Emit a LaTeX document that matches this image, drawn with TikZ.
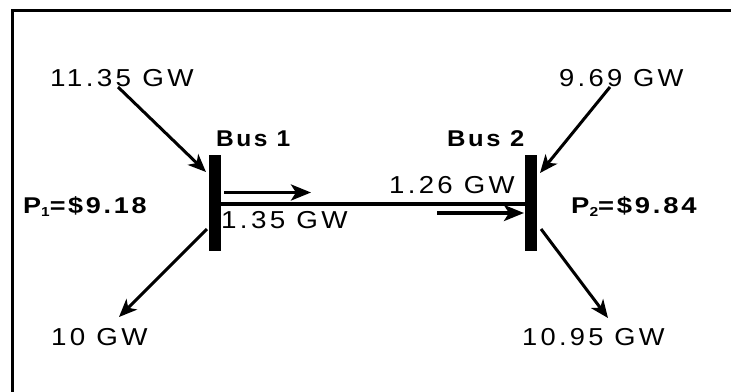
\documentclass[tikz,border=0pt]{standalone}
\usepackage{fontspec}
\usepackage{graphicx}
\setmainfont{Liberation Sans}
\newfontfamily\trackfont[LetterSpace=12]{Liberation Sans}
\newfontfamily\btrackfont[LetterSpace=10]{Liberation Sans}
\usetikzlibrary{arrows.meta}
\tikzset{
  lab/.style={inner sep=0pt, anchor=west, font=\fontsize{24.5}{24.5}\selectfont\trackfont, text height=17.5pt, text depth=0pt},
  blab/.style={inner sep=0pt, font=\fontsize{22.8}{22.8}\selectfont\btrackfont\bfseries, text height=16.3pt, text depth=0pt},
  busbar/.style={fill=black, draw=none},
  flow/.style={line width=3pt, -{Stealth[length=18pt, width=15pt, inset=5pt]}},
  hflow/.style={line width=3.5pt, -{Stealth[length=20pt, width=16pt, inset=5pt]}},
  frame/.style={line width=3.5pt},
  tline/.style={line width=4.5pt}
}
\newcommand{\wtext}[2]{\resizebox{#1pt}{\height}{#2}}
\newcommand{\subidx}[1]{\raisebox{-3pt}{\fontsize{13}{13}\selectfont #1}}
\begin{document}
\begin{tikzpicture}[x=1pt,y=-1pt]
\useasboundingbox (0,0) rectangle (731,391);
% frame
\draw[frame] (12.5,400) -- (12.5,10.5) -- (740,10.5);
% buses
\fill[busbar] (209,155) rectangle (221,251);
\fill[busbar] (525,155) rectangle (537,251);
\coordinate (b1) at (221,204);
\coordinate (b2) at (525,204);
\draw[tline] (b1) -- (b2);
% labels
\node[blab, anchor=west] (bus1) at (216,138) {\wtext{72}{Bus 1\hspace{-2pt}}};
\node[blab, anchor=west] (bus2) at (447,138) {\wtext{75}{Bus 2\hspace{-2pt}}};
\node[lab] (f1) at (221,220) {\wtext{123}{1.35 GW\hspace{-3pt}}};
\node[lab] (f2) at (389,185) {\wtext{122}{1.26 GW\hspace{-3pt}}};
\node[blab, anchor=west] (p1) at (23,205) {\wtext{121}{P\subidx{1}=\$9.18\hspace{-2pt}}};
\node[blab, anchor=west] (p2) at (571,205) {\wtext{123}{P\subidx{2}=\$9.84\hspace{-2pt}}};
\node[lab] (g1) at (50,78) {\wtext{140}{11.35 GW\hspace{-3pt}}};
\node[lab] (g2) at (559,78) {\wtext{121}{9.69 GW\hspace{-3pt}}};
\node[lab] (d1) at (51,337) {\wtext{93}{10 GW\hspace{-3pt}}};
\node[lab] (d2) at (522,337) {\wtext{139}{10.95 GW\hspace{-3pt}}};
% flow arrows
\coordinate (h1s) at (224,192.5);
\coordinate (h1e) at (311,192.5);
\coordinate (h2s) at (437,213);
\coordinate (h2e) at (524,213);
\draw[hflow] (h1s) -- (h1e);
\draw[hflow] (h2s) -- (h2e);
\coordinate (a1s) at (118,87);
\coordinate (a1e) at (206,172);
\coordinate (a2s) at (610,87);
\coordinate (a2e) at (540,173);
\coordinate (a3s) at (207,229);
\coordinate (a3e) at (119,317);
\coordinate (a4s) at (541,229);
\coordinate (a4e) at (608,318);
\draw[flow] (a1s) -- (a1e);
\draw[flow] (a2s) -- (a2e);
\draw[flow] (a3s) -- (a3e);
\draw[flow] (a4s) -- (a4e);
\end{tikzpicture}
\end{document}
